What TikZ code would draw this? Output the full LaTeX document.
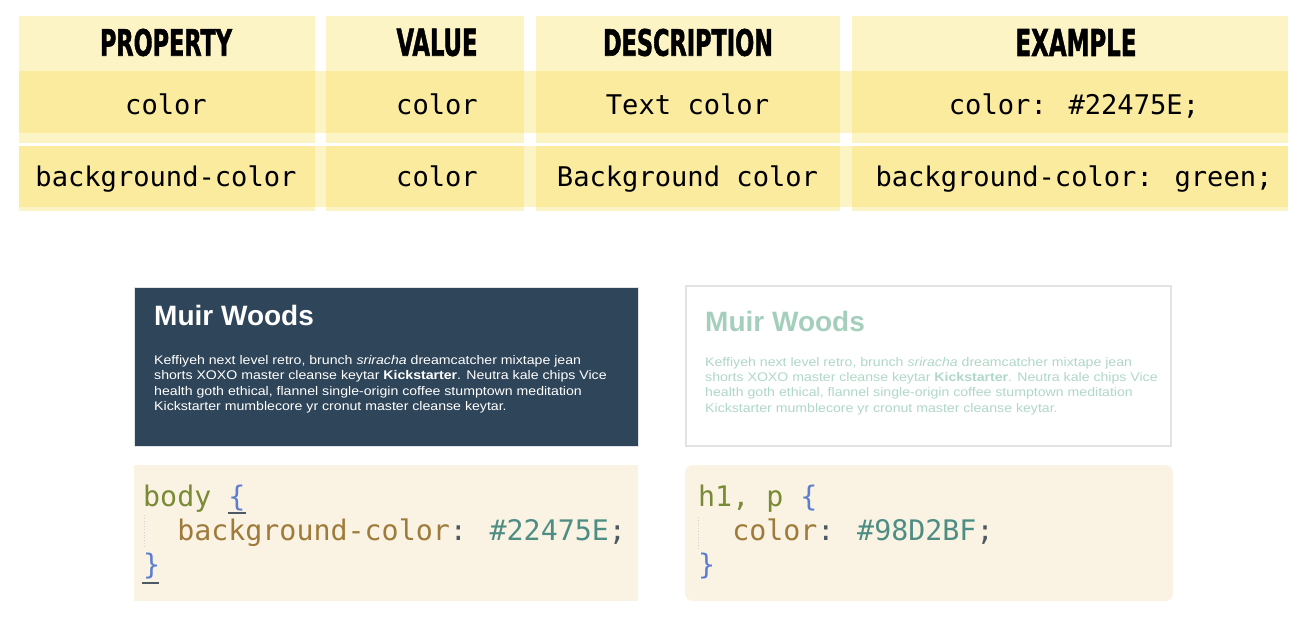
\documentclass[tikz,border=0pt]{standalone}
\usepackage{fontspec}
\setmainfont{Liberation Sans}
\newfontfamily\monof{DejaVu Sans Mono}
\newfontfamily\headf{DejaVu Sans Condensed}[BoldFeatures={FakeBold=1.6}]
\definecolor{hdrlight}{HTML}{FDF4C6}
\definecolor{rowdark}{HTML}{FAEB9F}
\definecolor{darkpanel}{HTML}{2F4559}
\definecolor{panelborder}{HTML}{E3E3E3}
\definecolor{titlegreen}{HTML}{A5CFBC}
\definecolor{paragreen}{HTML}{B0D8C6}
\definecolor{codebg}{HTML}{FAF3E3}
\definecolor{cdolive}{HTML}{7A8B35}
\definecolor{cdbrown}{HTML}{9E7B3B}
\definecolor{cdteal}{HTML}{4E8D84}
\definecolor{cdblue}{HTML}{5C7ED0}
\definecolor{cdpunct}{HTML}{4E5A63}
\newcommand{\hdtxt}[3]{\resizebox{#1bp}{#2bp}{\headf\bfseries #3}}
\newcommand{\wide}[1]{\scalebox{1.13}[1]{#1}}
\newcommand{\lineA}{\wide{Keffiyeh next level retro, brunch \textit{sriracha} dreamcatcher mixtape jean}}
\newcommand{\lineB}{\wide{shorts XOXO master cleanse keytar \textbf{Kickstarter}. Neutra kale chips Vice}}
\newcommand{\lineC}{\wide{health goth ethical, flannel single-origin coffee stumptown meditation}}
\newcommand{\lineD}{\wide{Kickstarter mumblecore yr cronut master cleanse keytar.}}
\tikzset{
  x=1bp, y=-1bp,
  cell/.style={anchor=base, inner sep=0pt, font=\monof\fontsize{27.1bp}{30bp}\selectfont},
  head/.style={inner sep=0pt},
  para/.style={anchor=base west, inner sep=0pt, font=\fontsize{12.5bp}{15bp}\selectfont},
  ttl/.style={anchor=base west, inner sep=0pt, font=\bfseries\fontsize{28bp}{30bp}\selectfont},
  code/.style={anchor=base west, inner sep=0pt, font=\monof\fontsize{28.3bp}{34bp}\selectfont},
  guide/.style={draw=black!18, line width=0.8bp, dotted},
  brmatch/.style={draw=cdpunct, line width=1.4bp}
}
\begin{document}
\begin{tikzpicture}
\useasboundingbox (0,0) rectangle (1314,625);
\fill[white] (0,0) rectangle (1314,625);
% ---------- table ----------
\fill[hdrlight] (19,71) rectangle (1288,133);
\fill[hdrlight] (19,146) rectangle (1288,207);
\foreach \a/\b in {19/315,326/524,536/840,852/1288}{
  \fill[hdrlight] (\a,16) rectangle (\b,71);
  \fill[rowdark] (\a,71) rectangle (\b,133);
  \fill[hdrlight] (\a,133) rectangle (\b,143);
  \fill[rowdark] (\a,146) rectangle (\b,207);
  \fill[hdrlight] (\a,207) rectangle (\b,211);
}
\node[head] (hprop) at (166,42.5) {\hdtxt{132}{27}{PROPERTY}};
\node[head] (hval) at (437,42.5) {\hdtxt{81}{27}{VALUE}};
\node[head] (hdesc) at (688,42.5) {\hdtxt{170}{27}{DESCRIPTION}};
\node[head] (hex) at (1076,42.5) {\hdtxt{121}{27}{EXAMPLE}};
\node[cell] (r1a) at (166,115) {color};
\node[cell] (r1b) at (437,115) {color};
\node[cell] (r1c) at (687.5,115) {Text color};
\node[cell] (r1d) at (1074,115) {color: \#22475E;};
\node[cell] (r2a) at (166,187) {background-color};
\node[cell] (r2b) at (437,187) {color};
\node[cell] (r2c) at (687.5,187) {Background color};
\node[cell] (r2d) at (1074,187) {background-color: green;};
% ---------- dark panel ----------
\filldraw[fill=darkpanel, draw=panelborder, line width=0.8bp] (134,287) rectangle (638,446);
\node[ttl, text=white] (dtitle) at (154,325) {Muir Woods};
\node[para, text=white] (dl1) at (154,364) {\lineA};
\node[para, text=white] (dl2) at (154,379.5) {\lineB};
\node[para, text=white] (dl3) at (154,395) {\lineC};
\node[para, text=white] (dl4) at (154,410.5) {\lineD};
% ---------- light panel ----------
\filldraw[fill=white, draw=panelborder, line width=2.5bp] (686,286) rectangle (1171,446);
\node[ttl, text=titlegreen] (ltitle) at (705,331) {Muir Woods};
\node[para, text=paragreen] (ll1) at (705,366) {\lineA};
\node[para, text=paragreen] (ll2) at (705,381) {\lineB};
\node[para, text=paragreen] (ll3) at (705,396.5) {\lineC};
\node[para, text=paragreen] (ll4) at (705,412) {\lineD};
% ---------- code panels ----------
\fill[codebg] (134,465) rectangle (638,601);
\fill[codebg, rounded corners=8bp] (685,465) rectangle (1173,601);
\node[code] (c1a) at (143,506) {\textcolor{cdolive}{body} \textcolor{cdblue}{\{}};
\node[code] (c1b) at (143,540) {\ \ \textcolor{cdbrown}{background-color}\textcolor{cdpunct}{:} \textcolor{cdteal}{\#22475E}\textcolor{cdpunct}{;}};
\node[code] (c1c) at (143,574) {\textcolor{cdblue}{\}}};
\draw[guide] (144,515) -- (144,547);
\draw[brmatch] (228,513) -- (246,513);
\draw[brmatch] (142,583) -- (159,583);
\node[code] (c2a) at (698,506) {\textcolor{cdolive}{h1, p} \textcolor{cdblue}{\{}};
\node[code] (c2b) at (698,540) {\ \ \textcolor{cdbrown}{color}\textcolor{cdpunct}{:} \textcolor{cdteal}{\#98D2BF}\textcolor{cdpunct}{;}};
\node[code] (c2c) at (698,574) {\textcolor{cdblue}{\}}};
\draw[guide] (698,517) -- (698,548);
\end{tikzpicture}
\end{document}
